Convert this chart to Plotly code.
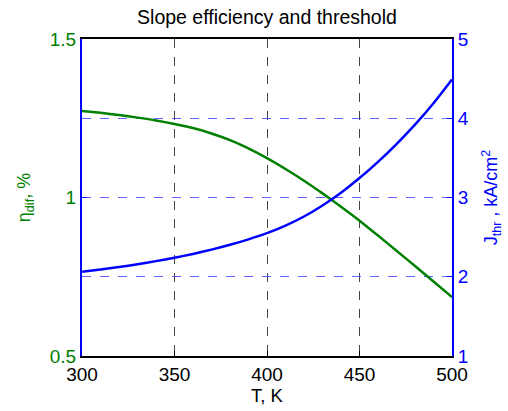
import plotly.graph_objects as go

T = [300, 310, 320, 330, 340, 350, 360, 370, 380, 390, 400,
     410, 420, 430, 440, 450, 460, 470, 480, 490, 500]
eta_dif = [1.273, 1.267, 1.260, 1.252, 1.243, 1.232, 1.219, 1.202, 1.181, 1.155, 1.124,
           1.090, 1.053, 1.013, 0.971, 0.927, 0.880, 0.832, 0.784, 0.735, 0.686]
J_thr = [2.064, 2.092, 2.123, 2.158, 2.197, 2.240, 2.288, 2.342, 2.403, 2.472, 2.550,
         2.645, 2.760, 2.900, 3.060, 3.245, 3.450, 3.675, 3.920, 4.190, 4.490]

x_ticks = [300, 350, 400, 450, 500]
y_ticks = [0.5, 1, 1.5]
y2_ticks = [1, 2, 3, 4, 5]

GREEN = "#008000"
BLUE = "#0000FF"
FONT = "Liberation Sans, Arial, sans-serif"

fig = go.Figure()
fig.add_trace(go.Scatter(x=T, y=eta_dif, mode="lines", yaxis="y",
                         line=dict(color=GREEN, width=2.5, shape="spline", smoothing=0.6),
                         showlegend=False))
fig.add_trace(go.Scatter(x=T, y=J_thr, mode="lines", yaxis="y2",
                         line=dict(color=BLUE, width=2.5, shape="spline", smoothing=0.6),
                         showlegend=False))

fig.update_layout(
    width=508, height=411,
    margin=dict(l=82, r=56, t=39, b=55, autoexpand=False),
    paper_bgcolor="white", plot_bgcolor="white",
    font=dict(family=FONT, size=18, color="black"),
    title=dict(text="Slope efficiency and threshold", x=0.5, xref="paper",
               y=1 - 17 / 411, yref="container", yanchor="middle", xanchor="center",
               font=dict(size=19.5, color="black")),
    xaxis=dict(range=[300, 500], tickvals=x_ticks, ticks="inside", ticklen=5,
               tickcolor="black", showline=True, linecolor="black", linewidth=1.5,
               mirror=True, showgrid=True, gridcolor="#444444", griddash="dash",
               gridwidth=1, zeroline=False,
               tickfont=dict(size=19, color="black"),
               title=dict(text="T, K", font=dict(size=18.5, color="black"), standoff=4)),
    yaxis=dict(range=[0.5, 1.5], tickvals=y_ticks, ticktext=["0.5", "1", "1.5"],
               ticks="inside", ticklen=5, tickcolor=BLUE,
               showline=True, linecolor=BLUE, linewidth=2, showgrid=False, zeroline=False,
               tickfont=dict(size=19, color=GREEN),
               title=dict(text="η<sub>dif</sub>, %", font=dict(size=18, color=GREEN), standoff=14)),
    yaxis2=dict(range=[1, 5], tickvals=y2_ticks, overlaying="y", side="right",
                ticks="inside", ticklen=5, tickcolor=BLUE,
                showline=True, linecolor=BLUE, linewidth=2,
                showgrid=True, gridcolor="rgba(70,70,255,0.85)", griddash="dash", gridwidth=1,
                zeroline=False,
                tickfont=dict(size=19, color=BLUE),
                title=dict(text="J<sub>thr</sub> , kA/cm<sup>2</sup>", font=dict(size=18, color=BLUE),
                           standoff=17)),
)

fig.write_html("out.html")
